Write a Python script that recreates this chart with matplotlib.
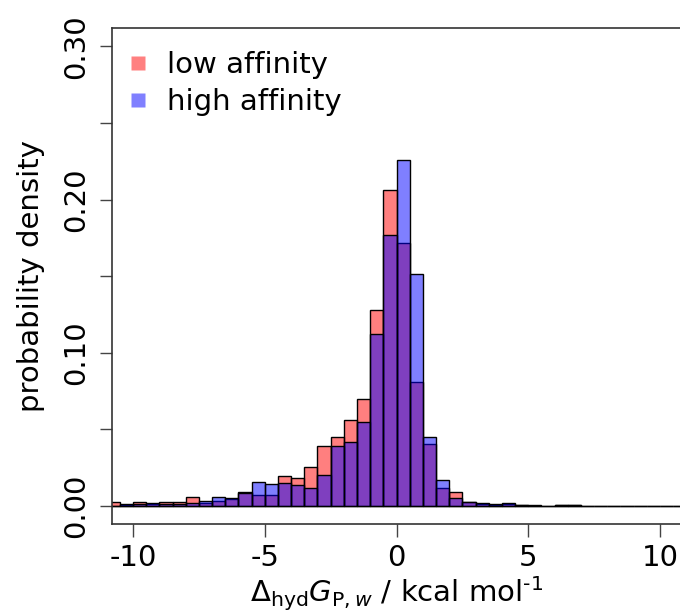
import numpy as np
import matplotlib
matplotlib.use("Agg")
import matplotlib.pyplot as plt
from matplotlib.lines import Line2D

# Histogram densities, bins of width 0.5 from -11 to 11
bin_edges = np.arange(-11, 11.5, 0.5)
low_density = [0.0026, 0.0008, 0.0026, 0.0015, 0.0026, 0.0026, 0.0055, 0.0020,
               0.0032, 0.0048, 0.0089, 0.0071, 0.0071, 0.0195, 0.0184, 0.0256,
               0.0390, 0.0450, 0.0564, 0.0695, 0.1280, 0.2063, 0.1716, 0.0807,
               0.0407, 0.0114, 0.0093, 0.0028, 0.0013, 0.0008, 0.0010, 0.0006,
               0.0003, 0.0002, 0.0004, 0.0004, 0.0002, 0, 0, 0, 0, 0, 0, 0]
high_density = [0.0, 0.0010, 0.0010, 0.0020, 0.0012, 0.0010, 0.0022, 0.0032,
                0.0061, 0.0054, 0.0082, 0.0156, 0.0141, 0.0152, 0.0134, 0.0119,
                0.0199, 0.0390, 0.0420, 0.0545, 0.1123, 0.1766, 0.2260, 0.1517,
                0.0452, 0.0166, 0.0054, 0.0025, 0.0020, 0.0010, 0.0017, 0.0008,
                0.0002, 0.0, 0.0007, 0.0007, 0.0, 0, 0, 0, 0, 0, 0, 0]

plt.rcParams["font.family"] = "DejaVu Sans"
plt.rcParams["mathtext.fontset"] = "dejavusans"

fig = plt.figure(figsize=(6.8, 6.13), dpi=100)
ax = fig.add_axes([112 / 680, 1 - 524.3 / 613, 569 / 680, 496.3 / 613])

lefts = bin_edges[:-1]
ax.bar(lefts, low_density, width=0.5, align="edge",
       facecolor=(1, 0, 0, 0.5), edgecolor="black", linewidth=1.0)
ax.bar(lefts, high_density, width=0.5, align="edge",
       facecolor=(0, 0, 1, 0.5), edgecolor="black", linewidth=1.0)

ax.set_xlim(-10.8, 10.8)
ax.set_ylim(-0.012, 0.312)

ax.set_xticks([-10, -5, 0, 5, 10])
ax.set_xticklabels(["-10", "-5", "0", "5", "10"])
ax.set_yticks([0, 0.05, 0.10, 0.15, 0.20, 0.25, 0.30])
ax.set_yticklabels(["0.00", "", "0.10", "", "0.20", "", "0.30"],
                   rotation=90, va="center")
ax.tick_params(axis="both", labelsize=21, length=9, width=1, color="#444444")
ax.tick_params(axis="x", pad=5)
ax.tick_params(axis="y", pad=7)

for s in ax.spines.values():
    s.set_linewidth(1.2)
    s.set_color("#333333")

ax.set_ylabel("probability density", fontsize=21)
ax.yaxis.set_label_coords(-0.118, 0.5)
ax.set_xlabel(r"$\Delta_{\mathrm{hyd}}G_{\mathrm{P},w}$ / kcal mol$^{\text{-1}}$",
              fontsize=21)
ax.xaxis.set_label_coords(0.5, -0.102)

handles = [Line2D([], [], marker="s", linestyle="none", markersize=10,
                  markerfacecolor="#ff8080", markeredgecolor="none"),
           Line2D([], [], marker="s", linestyle="none", markersize=10,
                  markerfacecolor="#8080ff", markeredgecolor="none")]
ax.legend(handles, ["low affinity", "high affinity"], loc="upper left",
          bbox_to_anchor=(-0.011, 0.988), frameon=False, fontsize=21,
          handlelength=1.0, handletextpad=0.5, labelspacing=0.29,
          borderaxespad=0.2)

fig.savefig("out.png", dpi=100)
